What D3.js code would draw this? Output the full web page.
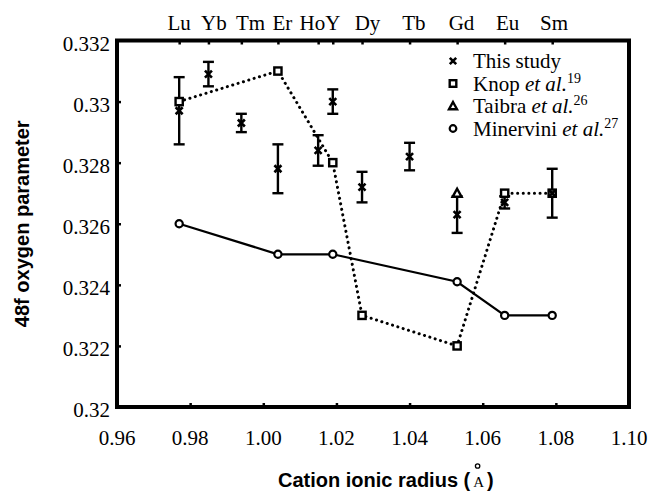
<!DOCTYPE html>
<html>
<head>
<meta charset="utf-8">
<script src="https://cdn.jsdelivr.net/npm/d3@7"></script>
<style>
  body { margin: 0; background: #fff; }
  svg text { fill: #000; }
  .serif { font-family: "Liberation Serif", "Times New Roman", serif; }
  .title { font-family: "Liberation Sans", Arial, sans-serif; font-weight: bold; font-size: 20px; }
</style>
</head>
<body>
<div id="chart"></div>
<script>
// element labels and their ionic radii (A)
const elements = ['Lu', 'Yb', 'Tm', 'Er', 'Ho', 'Y', 'Dy', 'Tb', 'Gd', 'Eu', 'Sm'];
const radii = [0.977, 0.985, 0.994, 1.004, 1.015, 1.019, 1.027, 1.040, 1.053, 1.066, 1.079];

// top labels (Ho and Y share one label)
const topLabels = ['Lu', 'Yb', 'Tm', 'Er', 'HoY', 'Dy', 'Tb', 'Gd', 'Eu', 'Sm'];
const topLabelAt = [0.977, 0.9865, 0.9965, 1.0052, 1.0155, 1.0285, 1.0412, 1.0542, 1.0668, 1.0795];

// this study: value and error
const studyValues = [0.3297, 0.3309, 0.3293, 0.3278, 0.3284, 0.3300, 0.3272, 0.3282, 0.3263, 0.3267, 0.3270];
const studyErrors = [0.0011, 0.0004, 0.0003, 0.0008, 0.0005, 0.0004, 0.0005, 0.00045, 0.0006, 0.0002, 0.0008];

// Knop et al.
const knopElements = ['Lu', 'Er', 'Y', 'Dy', 'Gd', 'Eu', 'Sm'];
const knopValues = [0.3300, 0.3310, 0.3280, 0.3230, 0.3220, 0.3270, 0.3270];

// Taibra et al.
const taibraElements = ['Gd'];
const taibraValues = [0.3270];

// Minervini et al.
const minerviniElements = ['Lu', 'Er', 'Y', 'Gd', 'Eu', 'Sm'];
const minerviniValues = [0.3260, 0.3250, 0.3250, 0.3241, 0.3230, 0.3230];

// axis ticks
const xTicks = [0.96, 0.98, 1.00, 1.02, 1.04, 1.06, 1.08, 1.10];
const xTickLabels = ['0.96', '0.98', '1.00', '1.02', '1.04', '1.06', '1.08', '1.10'];
const yTicks = [0.320, 0.322, 0.324, 0.326, 0.328, 0.330, 0.332];
const yTickLabels = ['0.32', '0.322', '0.324', '0.326', '0.328', '0.33', '0.332'];

const width = 655, height = 493;
const margin = { top: 40.5, right: 26, bottom: 86, left: 117 };
const w = width - margin.left - margin.right;
const h = height - margin.top - margin.bottom;

const radiusOf = el => radii[elements.indexOf(el)];

const x = d3.scaleLinear().domain([0.96, 1.10]).range([0, w]);
const y = d3.scaleLinear().domain([0.320, 0.332]).range([h, 0]);

const svg = d3.select('#chart').append('svg')
    .attr('width', width)
    .attr('height', height);

const g = svg.append('g')
    .attr('transform', `translate(${margin.left},${margin.top})`);

// inward ticks
const bottomAxis = g.append('g')
    .attr('transform', `translate(0,${h})`)
    .call(d3.axisBottom(x).tickValues(xTicks.slice(1, -1)).tickSize(-4).tickFormat(''));
const leftAxis = g.append('g')
    .call(d3.axisLeft(y).tickValues(yTicks.slice(1, -1)).tickSize(-4).tickFormat(''));
const topAxis = g.append('g')
    .call(d3.axisTop(x).tickValues(radii).tickSize(-4).tickFormat(''));
[bottomAxis, leftAxis, topAxis].forEach(a => {
    a.select('.domain').remove();
    a.selectAll('line').attr('stroke', '#000').attr('stroke-width', 2.5);
});

// frame
g.append('rect')
    .attr('width', w)
    .attr('height', h)
    .attr('fill', 'none')
    .attr('stroke', '#000')
    .attr('stroke-width', 4);

// tick labels
g.selectAll('.xlab')
    .data(xTicks)
    .join('text')
    .attr('class', 'xlab serif')
    .attr('x', d => x(d))
    .attr('y', h + 38)
    .attr('text-anchor', 'middle')
    .style('font-size', '21px')
    .text((d, i) => xTickLabels[i]);

g.selectAll('.ylab')
    .data(yTicks)
    .join('text')
    .attr('class', 'ylab serif')
    .attr('x', -7)
    .attr('y', d => y(d) + 10)
    .attr('text-anchor', 'end')
    .style('font-size', '21px')
    .text((d, i) => yTickLabels[i]);

g.selectAll('.toplab')
    .data(topLabelAt)
    .join('text')
    .attr('class', 'toplab serif')
    .attr('x', d => x(d))
    .attr('y', -11)
    .attr('text-anchor', 'middle')
    .style('font-size', '21px')
    .text((d, i) => topLabels[i]);

// axis titles
svg.append('text')
    .attr('class', 'title')
    .attr('transform', `translate(29,${margin.top + h / 2}) rotate(-90)`)
    .attr('text-anchor', 'middle')
    .text('48f oxygen parameter');

const xt = svg.append('text')
    .attr('class', 'title')
    .attr('x', 278)
    .attr('y', 487);
xt.append('tspan').text('Cation ionic radius (');
xt.append('tspan').attr('class', 'serif').style('font-size', '15px').style('font-weight', 'normal').text(' A ');
xt.append('tspan').text(')');
const ringX = 278 + xt.node().getComputedTextLength() - 16;
svg.append('circle')
    .attr('cx', ringX)
    .attr('cy', 466)
    .attr('r', 2.2)
    .attr('fill', 'none')
    .attr('stroke', '#000')
    .attr('stroke-width', 1.3);

// marker helpers
function cross(sel, size) {
    sel.append('path')
        .attr('d', `M${-size},${-size}L${size},${size}M${-size},${size}L${size},${-size}`)
        .attr('stroke', '#000')
        .attr('stroke-width', 2.6);
}
function square(sel, size) {
    sel.append('rect')
        .attr('x', -size).attr('y', -size)
        .attr('width', size * 2).attr('height', size * 2)
        .attr('fill', '#fff')
        .attr('stroke', '#000')
        .attr('stroke-width', 2.4);
}
function triangle(sel, size) {
    sel.append('path')
        .attr('d', `M0,${-size}L${size},${size * 0.8}L${-size},${size * 0.8}Z`)
        .attr('fill', '#fff')
        .attr('stroke', '#000')
        .attr('stroke-width', 2.4);
}
function ring(sel, size) {
    sel.append('circle')
        .attr('r', size)
        .attr('fill', '#fff')
        .attr('stroke', '#000')
        .attr('stroke-width', 2.2);
}

// Minervini line
const minPts = minerviniElements.map((e, i) => [x(radiusOf(e)), y(minerviniValues[i])]);
g.append('path')
    .attr('d', d3.line()(minPts))
    .attr('fill', 'none')
    .attr('stroke', '#000')
    .attr('stroke-width', 2.2);

// Knop dotted line
const knopPts = knopElements.map((e, i) => [x(radiusOf(e)), y(knopValues[i])]);
g.append('path')
    .attr('d', d3.line()(knopPts))
    .attr('fill', 'none')
    .attr('stroke', '#000')
    .attr('stroke-width', 3)
    .attr('stroke-linecap', 'round')
    .attr('stroke-dasharray', '0.1,5.5');

// error bars for this study
const study = elements.map((e, i) => ({ r: radii[i], v: studyValues[i], e: studyErrors[i] }));
const eb = g.selectAll('.eb')
    .data(study)
    .join('g')
    .attr('class', 'eb')
    .attr('transform', d => `translate(${x(d.r)},0)`);
eb.append('line')
    .attr('y1', d => y(d.v - d.e)).attr('y2', d => y(d.v + d.e))
    .attr('stroke', '#000').attr('stroke-width', 2.4);
eb.append('line')
    .attr('x1', -5.5).attr('x2', 5.5)
    .attr('y1', d => y(d.v + d.e)).attr('y2', d => y(d.v + d.e))
    .attr('stroke', '#000').attr('stroke-width', 2.4);
eb.append('line')
    .attr('x1', -5.5).attr('x2', 5.5)
    .attr('y1', d => y(d.v - d.e)).attr('y2', d => y(d.v - d.e))
    .attr('stroke', '#000').attr('stroke-width', 2.4);

// markers
minPts.forEach(p => ring(g.append('g').attr('transform', `translate(${p})`), 3.6));
knopPts.forEach(p => square(g.append('g').attr('transform', `translate(${p})`), 3.6));
taibraElements.forEach((e, i) =>
    triangle(g.append('g').attr('transform', `translate(${x(radiusOf(e))},${y(taibraValues[i])})`), 4.5));
study.forEach(d => cross(g.append('g').attr('transform', `translate(${x(d.r)},${y(d.v)})`), 3.5));

// legend
const legend = [
    { draw: cross, size: 3.2, name: 'This study', sup: '' },
    { draw: square, size: 3.3, name: 'Knop', sup: '19' },
    { draw: triangle, size: 4, name: 'Taibra', sup: '26' },
    { draw: ring, size: 3.3, name: 'Minervini', sup: '27' }
];
const lg = svg.append('g');
legend.forEach((d, i) => {
    const cy = 61 + i * 22.5;
    d.draw(lg.append('g').attr('transform', `translate(453,${cy})`), d.size);
    const t = lg.append('text')
        .attr('class', 'serif')
        .attr('x', 473)
        .attr('y', cy + 7)
        .style('font-size', '21px');
    t.append('tspan').text(d.name);
    if (d.sup) {
        t.append('tspan').style('font-style', 'italic').text(' et al.');
        t.append('tspan').attr('dy', -8).style('font-size', '14px').text(d.sup);
    }
});
</script>
</body>
</html>
